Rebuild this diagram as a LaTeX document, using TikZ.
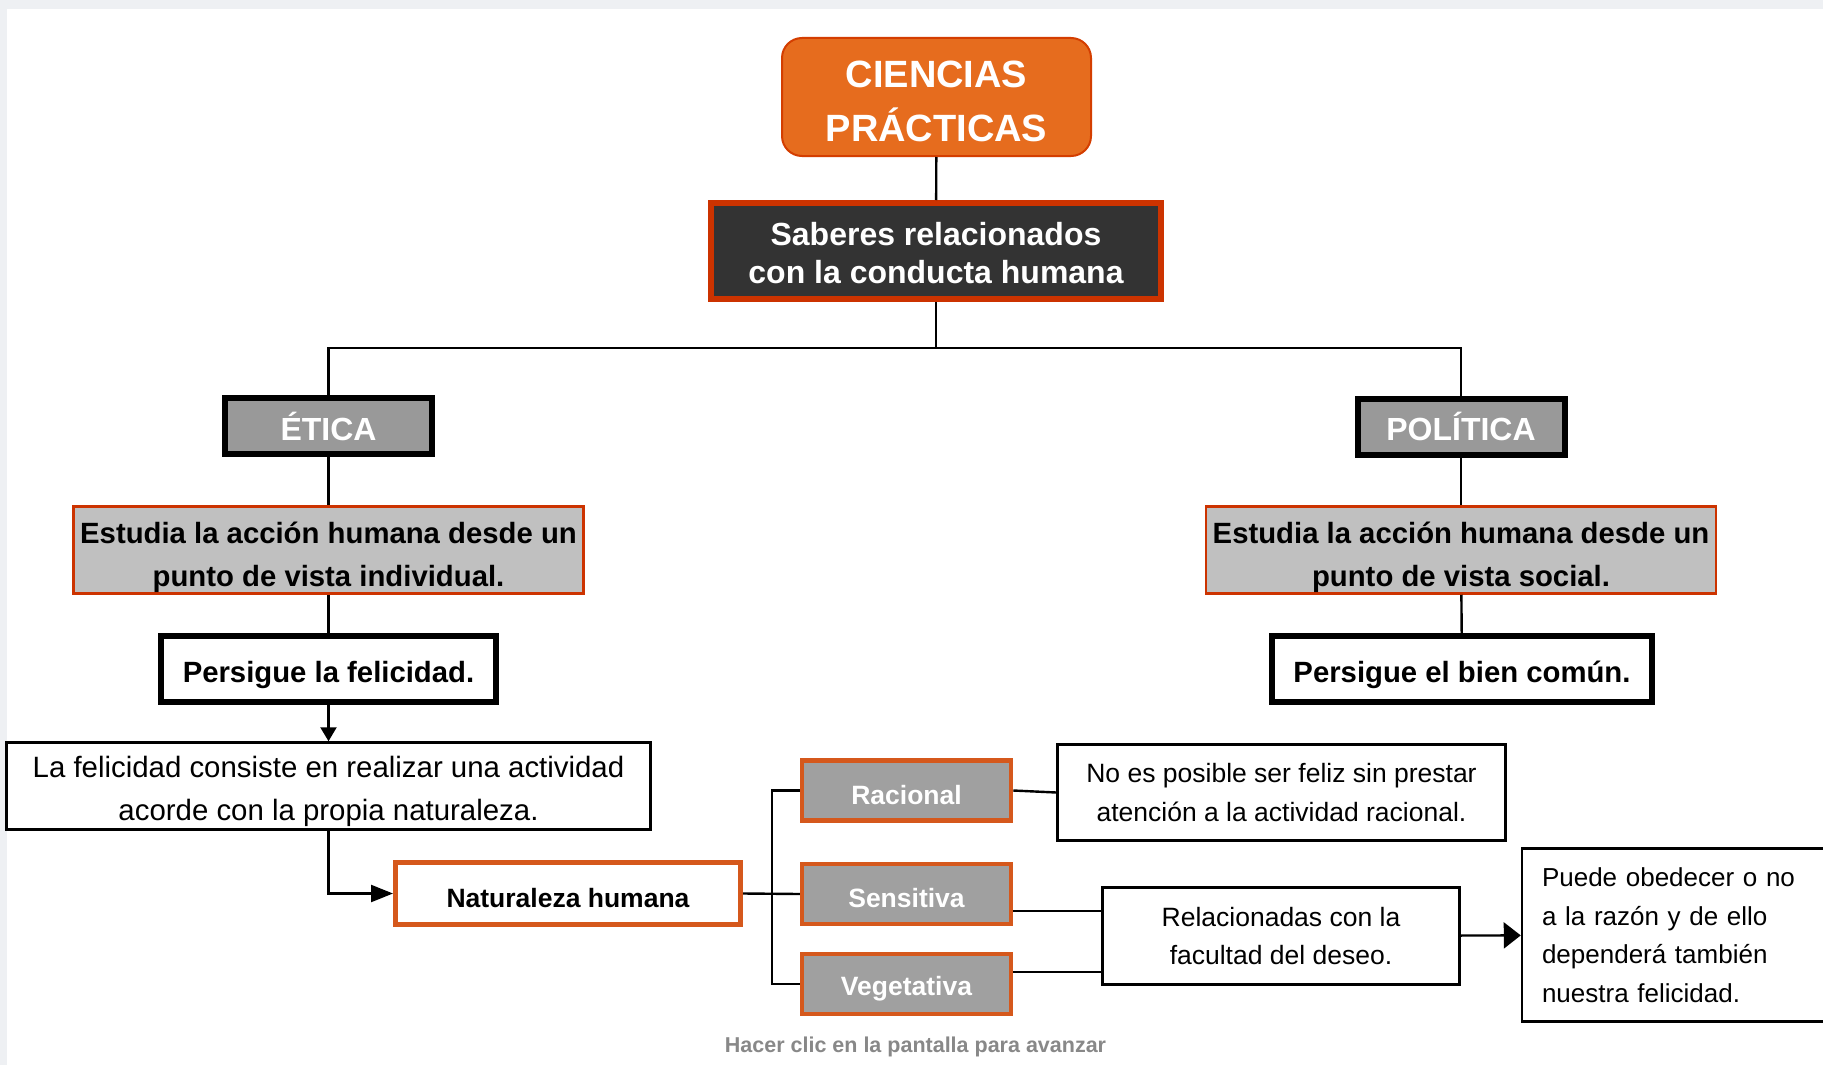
\documentclass[tikz,border=0pt]{standalone}
\usepackage{fontspec}
\setmainfont{Liberation Sans}
\usetikzlibrary{arrows.meta, positioning}
\definecolor{naranja}{HTML}{E66C1E}
\definecolor{rojizo}{HTML}{CC3300}
\definecolor{borde}{HTML}{D5581C}
\definecolor{oscuro}{HTML}{333333}
\definecolor{gris}{HTML}{999999}
\definecolor{grisclaro}{HTML}{C0C0C0}
\definecolor{grismedio}{HTML}{A0A0A0}
\definecolor{marco}{HTML}{EEF0F3}
\definecolor{aviso}{HTML}{888888}
\newcommand{\alto}[1]{\rule{0pt}{#1em}}

\begin{document}
\begin{tikzpicture}[x=1pt, y=-1pt,
        base/.style={rectangle, inner sep=0pt, align=center},
        titulo/.style={base, draw=rojizo!85!orange, line width=2pt, fill=naranja, rounded corners=20pt,
            text=white, font=\fontsize{38}{54}\selectfont\bfseries, minimum width=309pt, minimum height=118pt},
        saber/.style={base, draw=rojizo, line width=6pt, fill=oscuro, text=white,
            font=\fontsize{32}{38}\selectfont\bfseries, minimum width=450pt, minimum height=96pt},
        rama/.style={base, draw=black, line width=6pt, fill=gris, text=white,
            font=\fontsize{32}{32}\selectfont\bfseries, minimum width=207pt, minimum height=56pt},
        estudia/.style={base, draw=rojizo, line width=2.5pt, fill=grisclaro,
            font=\fontsize{29.3}{43}\selectfont\bfseries, minimum width=510pt, minimum height=87pt},
        meta/.style={base, draw=black, line width=6pt, fill=white, execute at begin node=\alto{1.1},
            font=\fontsize{29.3}{29}\selectfont\bfseries, minimum height=66pt},
        nota/.style={base, draw=black, line width=2.5pt, fill=white, font=\fontsize{26.5}{38.5}\selectfont},
        parte/.style={base, draw=borde, line width=4.5pt, fill=grismedio, text=white, execute at begin node=\alto{1.05},
            font=\fontsize{26.5}{26}\selectfont\bfseries, minimum width=209pt, minimum height=60pt},
        linea/.style={line width=2.4pt}
    ]
    \fill[marco] (0,0) rectangle (1823,1065);
    \fill[white] (7,9) rectangle (1823,1065);
    \useasboundingbox (0,0) rectangle (1823,1065);

    \node[titulo] (cien) at (936.5,97) {\alto{0.93}CIENCIAS\\PRÁCTICAS};
    \node[saber] (sab) at (936,251) {\alto{0.88}Saberes relacionados\\con la conducta humana};
    \coordinate (bar) at (936,348);

    \node[rama] (etica) at (328.5,426) {ÉTICA};
    \node[estudia] (estL) at (328.5,550) {\alto{1.2}Estudia la acción humana desde un\\punto de vista individual.};
    \node[meta, minimum width=335pt] (persL) at (328.5,669) {Persigue la felicidad.};

    \node[rama] (polit) at (1461,426.5) {POLÍTICA};
    \node[estudia] (estR) at (1461,550) {\alto{1.2}Estudia la acción humana desde un\\punto de vista social.};
    \node[meta, minimum width=380pt] (persR) at (1462,669) {Persigue el bien común.};

    \node[nota, font=\fontsize{29.4}{43}\selectfont, minimum width=644pt, minimum height=87pt] (felic) at (328.5,786)
        {\alto{1.1}La felicidad consiste en realizar una actividad\\acorde con la propia naturaleza.};
    \node[base, draw=borde, line width=5pt, fill=white, font=\fontsize{26.5}{26}\selectfont\bfseries,
        execute at begin node=\alto{1.05}, minimum width=345pt, minimum height=62pt] (nat) at (568,893.5)
        {Naturaleza humana};

    \node[parte] (rac) at (906.5,790.5) {Racional};
    \node[parte] (sen) at (906.5,894) {Sensitiva};
    \node[parte] (veg) at (906.5,984) {Vegetativa};
    \coordinate (brk) at (772,894);

    \node[nota, minimum width=448pt, minimum height=96pt] (noes) at (1281.5,792.5)
        {No es posible ser feliz sin prestar\\atención a la actividad racional.};
    \node[nota, minimum width=357pt, minimum height=97pt] (rel) at (1281,936)
        {Relacionadas con la\\facultad del deseo.};
    \node[nota, font=\fontsize{26}{38.5}\selectfont, align=left, text width=264pt, inner xsep=20pt,
        minimum height=173pt] (puede) at (1674,935)
        {Puede obedecer o no\\a la razón y de ello\\dependerá también\\nuestra felicidad.};

    \node[anchor=base, text=aviso, font=\fontsize{21.5}{21}\selectfont\bfseries] (hint) at (915.5,1052)
        {Hacer clic en la pantalla para avanzar};

    \draw[linea] (cien) -- (sab);
    \draw[linea] (sab) -- (bar);
    \draw[linea] (etica.north) |- (bar) -| (polit.north);
    \draw[linea] (etica) -- (estL);
    \draw[linea] (estL) -- (persL);
    \draw[linea] (polit) -- (estR);
    \draw[linea] (estR) -- (persR);

    \draw[linea, -{Triangle[length=14pt, width=16pt]}] (persL) -- (felic);
    \draw[linea, -{Triangle[length=22pt, width=17pt]}] (felic.south) |- (nat.west);

    \draw[linea] (nat.east) -- (sen.west);
    \draw[linea] (rac.west) -| (brk) |- (veg.west);
    \draw[linea] (rac.east) -- (noes.west);
    \draw[linea] ([yshift=-17pt]sen.east) -- ([yshift=-17pt]sen.east -| rel.west);
    \draw[linea] ([yshift=12pt]veg.east) -- ([yshift=12pt]veg.east -| rel.west);
    \draw[linea, -{Triangle[length=17pt, width=26pt]}] (rel) -- (puede);
\end{tikzpicture}
\end{document}
